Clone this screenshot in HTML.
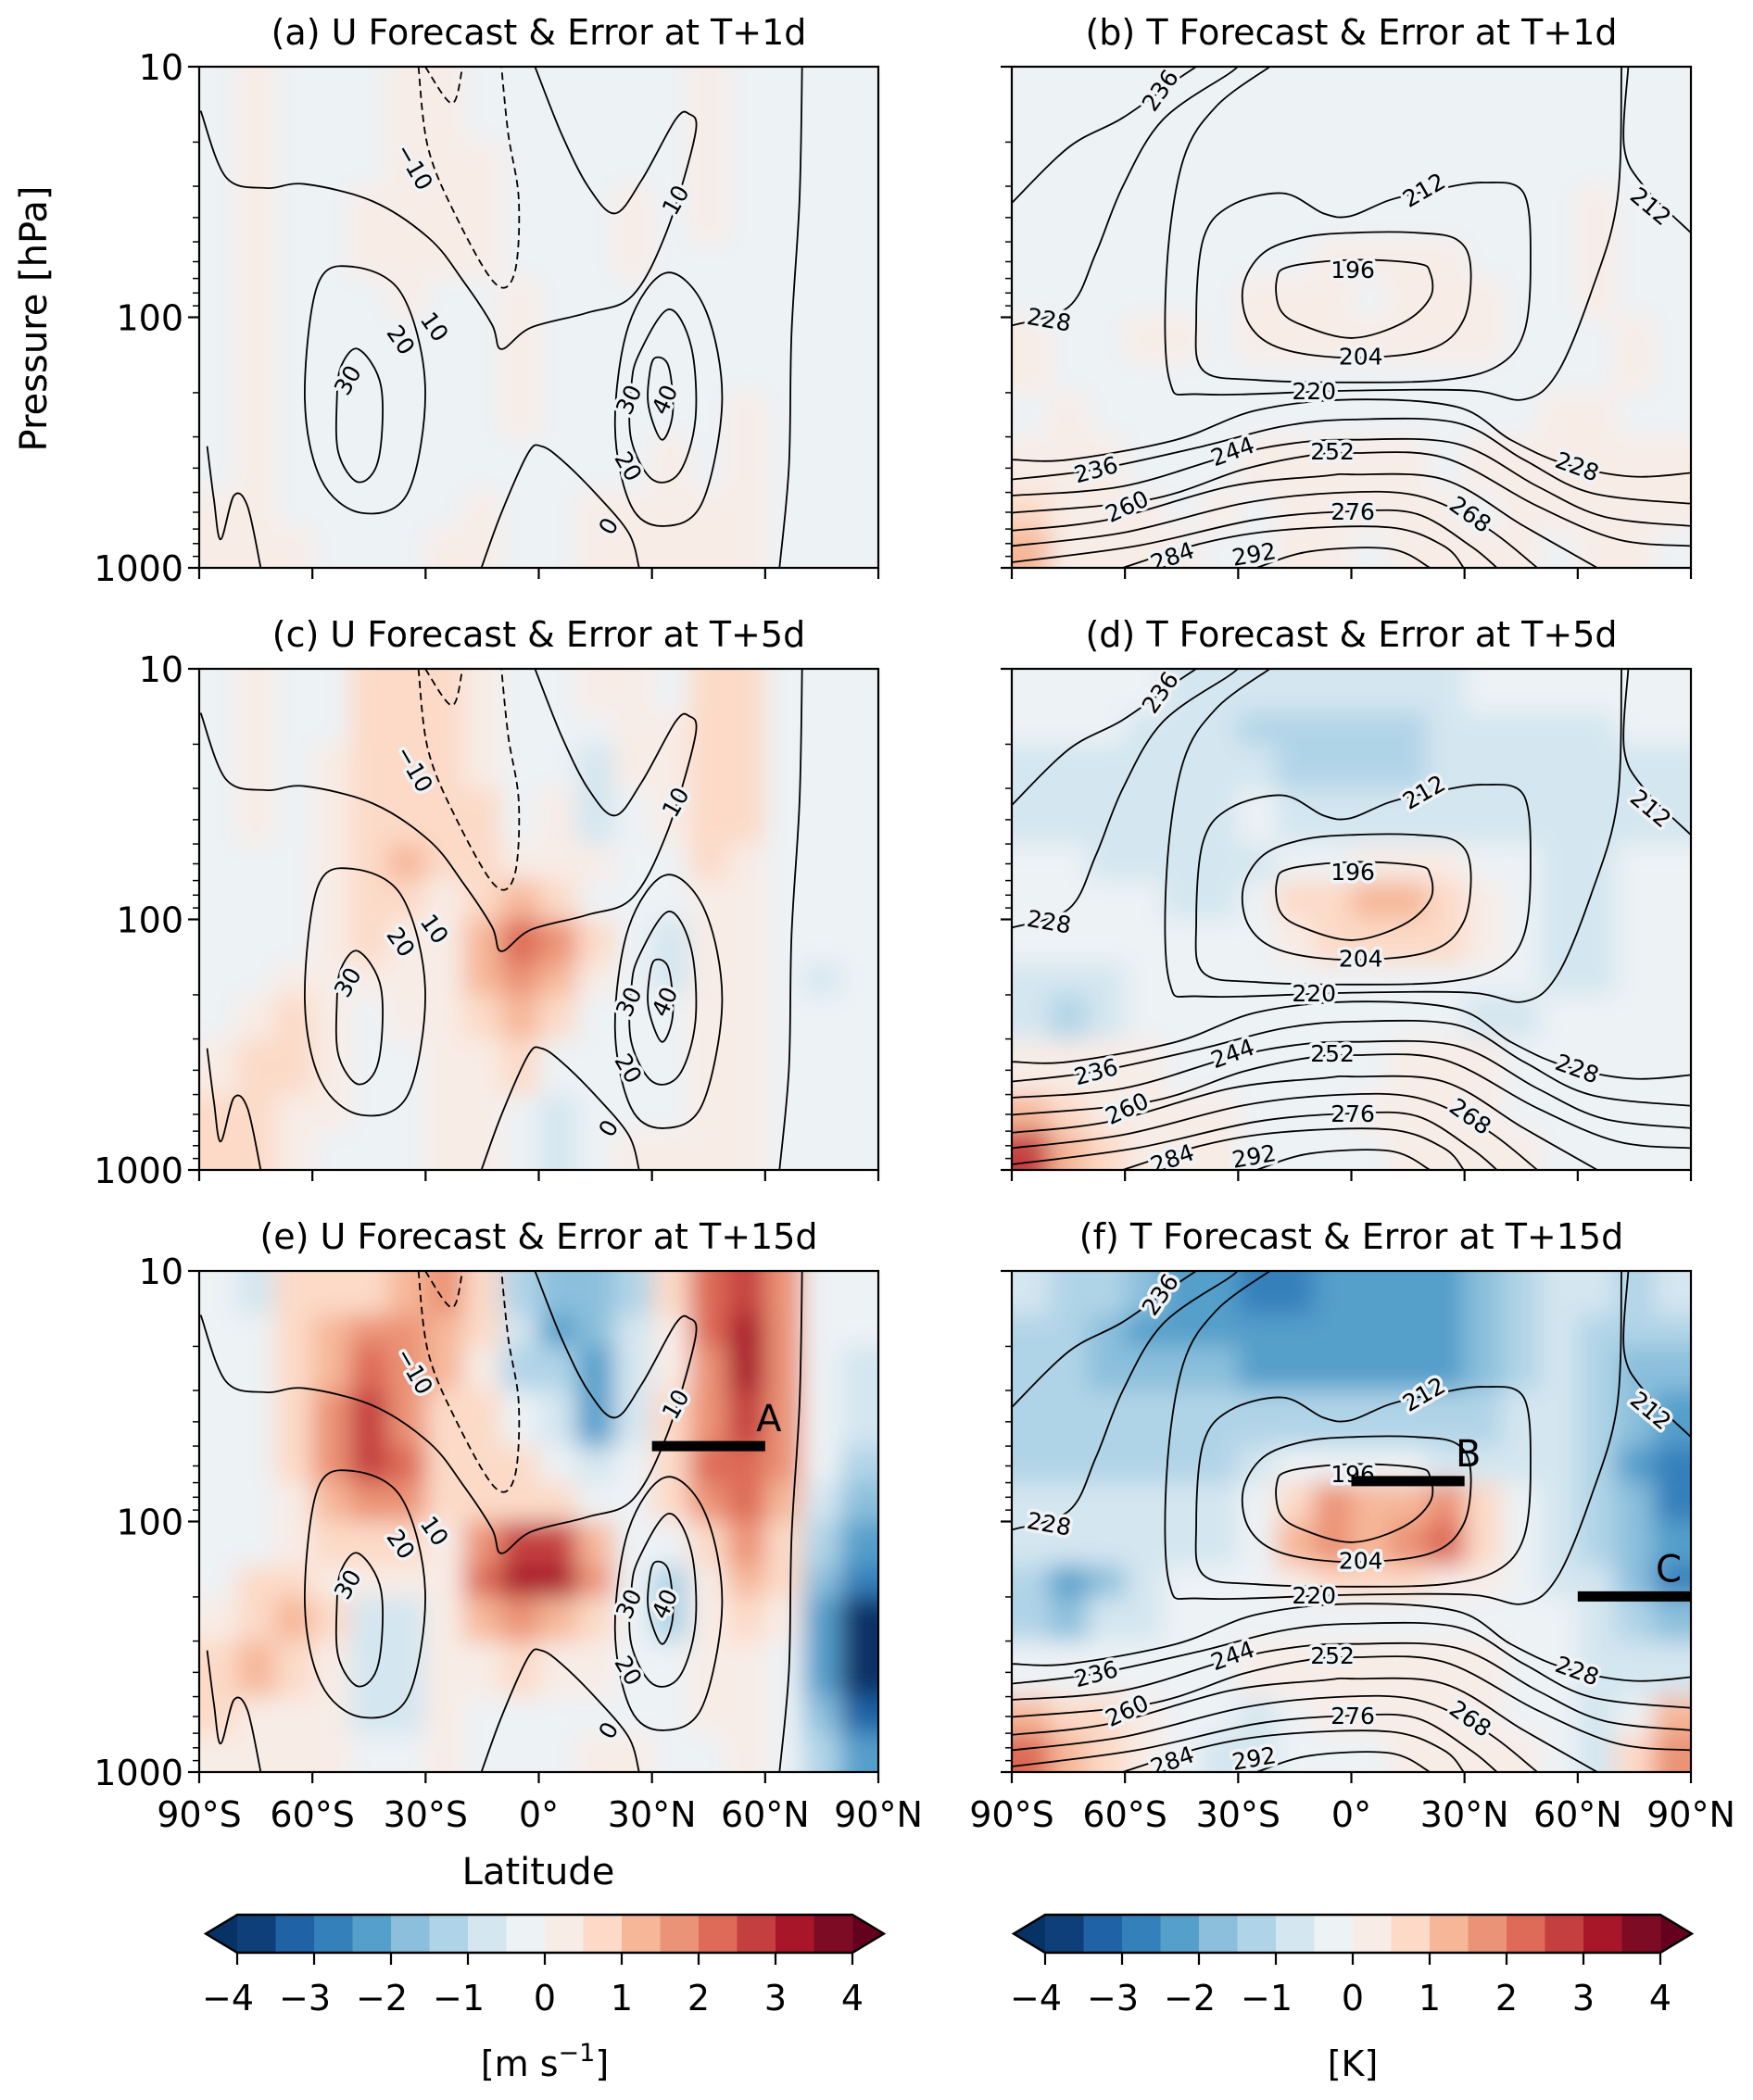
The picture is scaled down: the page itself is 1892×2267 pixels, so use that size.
<!DOCTYPE html>
<html><head><meta charset="utf-8"><title>U and T forecast errors</title>
<style>
html,body{margin:0;padding:0;background:#fff;}
svg text{font-family:"DejaVu Sans","Liberation Sans",sans-serif;fill:#000;}
</style></head>
<body>
<svg id="fig" xmlns="http://www.w3.org/2000/svg" width="1892" height="2262" viewBox="0 0 1892 2262">
<defs>
<filter id="soft" x="-5%" y="-5%" width="110%" height="110%"><feGaussianBlur stdDeviation="13"/></filter>
</defs>
<g id="root"></g>
</svg>
<script>
// ---------- data ----------
const latEdges = [-90,-80,-70,-60,-50,-40,-30,-20,-10,0,10,20,30,40,50,60,70,80,90];
const presEdges = [10,15,20,30,50,70,100,150,200,300,500,700,1000];
const latTicks = [-90,-60,-30,0,30,60,90];
const latTickLabels = ["90°S","60°S","30°S","0°","30°N","60°N","90°N"];
const presTicks = [10,100,1000];
const presMinor = [20,30,40,50,60,70,80,90,200,300,400,500,600,700,800,900];
const cbarTicks = [-4,-3,-2,-1,0,1,2,3,4];
const cbarLabels = ["−4","−3","−2","−1","0","1","2","3","4"];
const binColors = ["#0f3f78","#1f63a6","#3480bb","#559fcb","#8bbfdc","#b0d4e7","#d4e6f0","#edf2f5","#f8ece6","#fcdac7","#f6b799","#eb9376","#dd6b57","#c43f3f","#a81729","#7d0b24"];
const underColor = "#073266", overColor = "#65001f";

const uErr1 = [
[-.2,.2,-.2,-.2,-.2,.2,.2,-.2,-.2,-.2,-.2,-.2,-.2,.2,-.2,-.2,-.2,-.2],
[-.2,.2,-.2,-.2,-.2,.2,.2,-.2,-.2,-.2,-.2,-.2,-.2,.2,-.2,-.2,-.2,-.2],
[-.2,.2,-.2,-.2,-.2,.2,.2,.2,-.2,-.2,-.2,-.2,-.2,.2,-.2,-.2,-.2,-.2],
[-.2,.2,-.2,-.2,.2,.2,.2,.2,-.2,-.2,-.2,.2,-.2,.2,-.2,-.2,-.2,-.2],
[-.2,.2,-.2,-.2,.2,.2,.2,.2,-.2,-.2,-.2,.2,-.2,-.2,-.2,-.2,-.2,-.2],
[-.2,.2,-.2,-.2,-.2,.2,-.2,-.2,.2,-.2,-.2,-.2,-.2,-.2,-.2,-.2,-.2,-.2],
[-.2,.2,-.2,-.2,-.2,-.2,-.2,-.2,.4,-.2,-.2,-.2,-.2,-.2,-.2,-.2,-.2,-.2],
[-.2,.2,-.2,-.2,-.2,-.2,-.2,-.2,.4,-.2,-.2,-.2,-.2,-.2,-.2,-.2,-.2,-.2],
[-.2,.2,-.2,-.2,-.2,-.2,-.2,-.2,.2,-.2,-.2,-.2,-.2,-.2,.2,-.2,-.2,-.2],
[-.2,.2,-.2,-.2,-.2,-.2,-.2,-.2,-.2,-.2,-.2,-.2,.2,-.2,.2,-.2,-.2,-.2],
[.2,.2,-.2,-.2,-.2,-.2,-.2,.2,-.2,-.2,.2,.2,.2,.2,.2,-.2,-.2,-.2],
[.2,.2,.2,-.2,-.2,-.2,.2,.2,-.2,-.2,.2,.2,.2,.2,.2,-.2,-.2,-.2]];
const uErr5 = [
[-.2,.2,-.2,-.2,.5,.7,.5,.2,-.2,-.2,.2,.2,-.2,.6,.6,-.2,-.2,-.2],
[-.2,.2,-.2,-.2,.6,.8,.6,.2,-.2,-.2,-.2,.2,.2,.6,.6,-.2,-.2,-.2],
[-.2,.2,-.2,.2,.6,.8,.5,.2,-.2,-.2,-.6,.2,.2,.6,.6,-.2,-.2,-.2],
[-.2,.2,-.2,.2,.6,.8,.6,.6,-.2,.2,-.6,-.2,.2,.6,.6,-.2,-.2,-.2],
[-.2,-.2,-.2,.2,.8,1.2,.6,.6,.2,.2,.2,-.2,-.2,.6,.2,-.2,-.2,-.2],
[-.2,-.2,-.2,.2,.6,.6,.2,.6,1,.6,-.2,-.2,-.2,.2,.2,-.2,-.2,-.2],
[-.2,-.2,-.2,.2,.5,.2,.2,1.2,2.2,1.8,.6,-.2,-.6,.2,.2,-.2,-.2,-.2],
[-.2,-.2,.2,.2,.2,.2,.2,1,1.8,1.2,.2,-.2,-.6,.2,.2,-.2,-.6,-.2],
[-.2,.2,.6,.2,-.2,.2,.2,.6,1.2,.6,-.2,-.2,-.2,.2,.2,-.2,-.2,-.2],
[.2,.6,.6,.2,-.2,-.2,.2,.2,.5,-.2,-.2,-.2,-.2,.2,.2,-.2,-.2,-.2],
[.6,.6,.2,.2,-.2,-.2,.2,.2,-.2,-.6,-.2,-.2,-.2,.2,.2,-.2,-.2,-.2],
[.6,.6,.2,-.2,-.2,-.2,.2,.2,-.2,-.6,-.2,.2,.2,.2,.2,-.2,-.2,-.2]];
const uErr15 = [
[-.3,-.6,.7,.5,.8,1.2,1.5,.8,-1.5,-2,-1.8,-1.2,.5,2,2.5,1.5,-.2,-.3],
[-.2,-.2,.6,1,1.5,1.5,1.2,.5,-1,-2.2,-2,-.8,.3,2,3,1.5,-.3,-.5],
[-.2,-.2,.5,1.2,2.2,1.5,1,.3,-1.2,-1.5,-2.2,-.8,.3,1.8,3.2,1.8,-.5,-.7],
[-.2,-.2,.5,1.5,2.5,1.8,.8,.5,-.5,-1,-2.5,-.7,.5,1.8,2.8,1.5,-.5,-1],
[-.2,-.2,.5,1.8,2.5,2,.8,.5,.8,-.5,-1,-.5,.6,2,2.3,1.5,-.5,-1.5],
[-.2,-.2,.3,1,1.8,1.5,.6,.5,.8,.5,-.4,-.3,.5,1.5,2,1.2,-.8,-2],
[-.2,-.2,.3,.5,.8,.6,.3,1.5,2.5,2.5,1,-.3,-.5,.5,1.5,.8,-1.5,-2.5],
[-.2,.5,.8,.3,.3,.3,.3,2,3.2,3,1.5,-.5,-1.2,.2,1,.5,-2,-3],
[.3,.8,1,.5,-.8,-.8,.3,1,1.5,1.2,.5,-.5,-1.5,.2,.5,.2,-2.5,-4.2],
[.5,1,.8,.3,-1,-.8,.3,.3,.5,.3,.3,-.3,-.5,.2,.3,-.2,-2.5,-4.5],
[.5,.3,.3,.2,-.8,-.7,.2,-.3,-.3,-.3,-.3,-.3,-.3,.2,.3,-.3,-2,-3.5],
[.3,.3,.2,.2,-.5,-.5,.2,-.3,-.3,-.3,.2,.2,-.3,-.3,.2,-.5,-1.5,-2.5]];
const tErr1 = [
[-.2,-.2,-.2,-.2,-.2,-.2,-.2,-.2,-.2,-.2,-.2,-.2,-.2,-.2,-.2,-.2,-.2,-.2],
[-.2,-.2,-.2,-.2,-.2,-.2,-.2,-.2,-.2,-.2,-.2,-.2,-.2,-.2,-.2,-.2,-.2,-.2],
[-.2,-.2,-.2,-.2,-.2,-.2,-.2,-.2,-.2,-.2,-.2,-.2,-.2,-.2,-.2,-.2,-.2,-.2],
[-.2,-.2,-.2,-.2,-.2,-.2,-.2,-.2,-.2,-.2,-.2,-.2,-.2,-.2,-.2,.2,-.2,-.2],
[-.2,-.2,-.2,-.2,-.2,-.2,-.2,-.2,.2,.2,.2,.2,-.2,-.2,-.2,.2,-.2,-.2],
[-.2,-.2,-.2,-.2,-.2,-.2,.2,.2,.2,-.2,.2,.2,.2,-.2,-.2,.2,-.2,-.2],
[.2,-.2,-.2,.2,.2,-.2,.2,.2,.2,.2,.2,.2,.2,-.2,-.2,-.2,.2,-.2],
[.2,-.2,-.2,-.2,-.2,-.2,-.2,-.2,-.2,-.2,-.2,-.2,-.2,-.2,-.2,-.2,.2,-.2],
[-.2,.2,-.2,-.2,-.2,-.2,-.2,-.2,-.2,-.2,-.2,-.2,-.2,-.2,.2,.2,-.2,-.2],
[.2,.2,.2,-.2,-.2,-.2,.2,.2,.2,.2,.2,-.2,.2,.2,.2,.2,.2,.2],
[.6,.2,.2,.2,-.2,.2,-.2,.2,.2,.2,.2,.2,-.2,.2,.2,.2,.2,.2],
[1,.2,.2,.2,.2,-.2,-.2,.2,.2,-.2,.2,.2,.2,.2,-.2,.2,.2,-.2]];
const tErr5 = [
[-.3,-.3,-.3,-.5,-.6,-.8,-1,-1,-.8,-.8,-.8,-.6,-.5,-.3,-.3,-.3,-.3,-.3],
[-.3,-.3,-.5,-.6,-.8,-1,-1.2,-1.2,-1.2,-1.2,-1.2,-1,-.8,-.6,-.6,-.6,-.5,-.5],
[-.6,-.6,-.6,-.6,-.6,-.6,-.8,-1.2,-1.3,-1.3,-1.2,-1,-.8,-.6,-.6,-.6,-.8,-.6],
[-.6,-.6,-.6,-.6,-.6,-.6,-.3,-.6,-.6,-.6,-.6,-.6,-.6,-.6,-.6,-.6,-.6,-.6],
[-.2,-.2,-.6,-.6,-.6,-.6,-.6,-.2,-.2,.3,.3,.3,-.2,-.2,-.6,-.6,-.3,-.2],
[-.2,-.2,-.2,-.2,-.6,-.6,-.3,.5,.8,1,1,.6,.3,-.2,-.6,-.6,-.3,-.2],
[-.2,-.2,-.2,-.2,-.3,-.3,-.2,.3,.6,.6,.6,.5,.2,-.2,-.6,-.6,-.3,-.2],
[-.6,-.6,-.6,-.3,-.3,-.2,-.2,-.2,-.2,-.2,-.2,-.2,-.2,-.2,-.6,-.6,-.2,-.2],
[-.6,-1.2,-.6,-.3,-.2,-.2,-.2,-.2,-.2,-.2,-.2,-.2,-.6,-.6,-.2,-.2,-.2,-.2],
[.3,.3,.3,.3,-.2,-.2,-.2,-.2,-.2,-.2,.2,.2,.2,-.2,-.2,-.2,-.2,-.2],
[1,.6,.3,.3,.3,.2,-.2,-.2,-.2,.2,.3,.3,.2,-.2,-.2,-.2,-.2,-.2],
[2.5,1.2,.6,.3,.3,.2,-.2,-.2,-.2,-.2,.2,.2,.2,.2,-.2,-.2,-.2,-.2]];
const tErr15 = [
[-1,-1.5,-1.5,-2,-2.5,-2.5,-3,-3,-2.5,-2.5,-2.5,-2.5,-2,-1.5,-.6,-1,-1.2,-1],
[-1.5,-1.5,-2,-2.5,-2.5,-2.5,-2.5,-2.5,-2.5,-2.5,-2.5,-2.5,-2,-1.5,-.6,-1.2,-1.5,-1.5],
[-1.5,-1.5,-2,-2,-2,-2,-2.2,-2.5,-2.5,-2.5,-2.5,-2.5,-2,-1.2,-.6,-1.5,-2,-2],
[-1.5,-1.5,-1.5,-1.5,-1.5,-1.5,-1.5,-1.5,-1.2,-1.2,-1.2,-1.5,-1.5,-1,-.6,-1.5,-2,-2.5],
[-1.2,-1.2,-1.2,-1.2,-1.2,-1.2,-.6,-.5,-.2,-.2,-.2,-.6,-.8,-.6,-.6,-1.5,-2.2,-3],
[-.6,-.6,-.6,-.6,-.8,-.8,-.3,.8,1.5,1,1.2,1.5,.8,-.2,-.6,-1.2,-2,-3],
[-.6,-.6,-.6,-.6,-.6,-.6,-.3,1,1.5,1.2,1.5,2,.8,-.2,-.6,-1.2,-2,-2.5],
[-1.5,-2.5,-1.8,-.6,-.3,-.3,-.3,.3,.5,.5,.5,.3,.2,-.2,-.6,-1,-1.8,-3],
[-1.5,-2,-1,-.6,-.3,-.2,-.2,-.2,-.2,-.2,-.2,-.2,-.3,-.3,-.3,-.6,-1.2,-2],
[-.3,-.3,-.3,-.3,-.2,-.2,.2,.2,.2,.2,.3,.3,.2,-.2,-.2,-.6,-1,-.6],
[1,.8,.5,.3,-.2,-.2,-.6,-.3,.2,.2,.3,.2,.2,-.2,-.2,-.6,-.5,1],
[2,1.2,.8,.3,-.2,-.6,-.6,-.3,-.2,-.2,.2,.2,.3,.3,-.2,-.6,.5,1.8]];

// U forecast contours: [lat, pressure] points
const uContours = [
 {lev:10, closed:false, lat:[-89.6,-82.9,-72.3,-62,-43.9,-29,-20.2,-12.4,-9.9,-2.1,12.8,24.8,34,41.5,39.7,36.2,27.3,20.2,13.1,6,-1],
  p:[15,27.6,30.5,29.4,34.5,48.5,71,107,134,110,96,82,45,18.5,15.4,16.3,28.3,38.5,30.1,18.5,10]},
 {lev:-10, closed:false, lat:[-31.9,-29.4,-22.3,-11.7,-6.4,-5.3,-8.1,-9.9], p:[10,20.9,38.5,73,66.5,34,18.5,10]},
 {lev:-10, closed:false, lat:[-30.1,-23,-20.2], p:[10,14,10]},
 {lev:20, closed:true, lat:[-58.8,-50,-36.5,-30.1,-34.7,-47.1,-57.7,-62], p:[75.5,62.7,80,189,502,603,444,213]},
 {lev:30, closed:true, lat:[-52.4,-47.8,-41.8,-42.5,-47.8,-53.1,-53.5], p:[157,134,189,370,455,348,213]},
 {lev:0, closed:false, lat:[-15.2,-9.9,-2.8,0.7,6,14.9,23.8,26.6], p:[1000,603,348,327,370,502,724,1000]},
 {lev:20, closed:true, lat:[23.8,33.7,44,48.6,43.3,33.3,24.5,20.2], p:[108,66.5,92,213,550,681,567,272]},
 {lev:30, closed:true, lat:[26.6,34.4,40.4,41.5,37.2,30.1,24.5,24.5], p:[140,93,131,256,418,444,308,189]},
 {lev:40, closed:true, lat:[30.9,34.4,35.5,32.6,29.1,29.4], p:[145,157,241,308,227,167]},
 {lev:0, closed:false, lat:[69.8,69.1,67,66.3,63.8], p:[10,34,116,393,1000]},
 {lev:0, closed:false, lat:[-87.9,-86.1,-84.3,-80.8,-77.2,-73.7], p:[327,534,770,515,567,1000]}
];
const uLabelText = ["−10","10","20","30","30","40","20","0","10"];
const uLabelLat = [-32.9,-27.6,-36.5,-50.7,23.8,33.3,23.8,18.4,36.2];
const uLabelP = [25.1,109,123,178,213,213,393,681,34];
const uLabelRot = [60,55,55,-60,-65,-65,60,-60,-60];

// T forecast contours
const tContours = [
 {lev:196, closed:true, lat:[-19.8,-16.3,0.4,17.4,20.9,20.9,13.8,0.4,-12.7,-18.8], p:[71,62.7,59,61,66.5,83.5,105,121,108,93.5]},
 {lev:204, closed:true, lat:[-28.7,-23.4,-12.7,0.4,17.4,28,31.6,29.8,20.9,0.4,-18.1,-26.9], p:[75.5,55.5,48,46,46,49,62.7,102,134,145,134,108]},
 {lev:212, closed:true, lat:[-41.1,-39.3,-32.2,-18.1,-7.4,-0.3,10.3,22,35.1,45.7,47.5,45.7,38.6,24.5,0.4,-25.1,-39.3], p:[102,49,36,32,38.5,39.5,34,31,29,32,62.7,116,157,178,182,178,163]},
 {lev:220, closed:false, lat:[-21.6,-35.8,-44.6,-48.9,-48.2,-39.3,0.4,31.6,45.7,54.6,63.5,70.5,71.6], p:[10,14.4,23.6,62.7,178,203,196,196,213,167,80,34,10]},
 {lev:212, closed:false, lat:[73.4,72.3,77.6,90], p:[10,20.9,30.1,46]},
 {lev:228, closed:false, lat:[-90,-74.8,-67.7,-60.6,-50,-32.2,-30.5], p:[108,90.5,55.5,30.1,16.3,10.6,10]},
 {lev:236, closed:false, lat:[-90,-74.8,-60.6,-46.4,-41.1], p:[35,20.9,16,11.3,10]},
 {lev:228, closed:false, lat:[-90,-74.8,-46.4,-25.1,0.4,28,42.2,56.4,74.1,90], p:[370,370,308,235,213,228,308,384,432,418]},
 {lev:236, closed:false, lat:[-90,-67.7,-39.3,-18.1,0.4,28,45.7,63.5,90], p:[444,405,327,272,256,264,370,502,555]},
 {lev:244, closed:false, lat:[-90,-60.6,-32.2,-14.5,0.4,28,49.3,67,90], p:[515,473,356,317,308,320,473,625,681]},
 {lev:252, closed:false, lat:[-90,-53.5,-28.7,-11,0.4,24.5,49.3,70.5,90], p:[603,534,405,356,348,363,567,770,818]},
 {lev:260, closed:false, lat:[-90,-64.1,-32.2,-7.4,0.4,24.5,45.7,65.2], p:[710,641,473,430,424,444,681,1000]},
 {lev:268, closed:false, lat:[-90,-60.6,-28.7,-3.9,17.4,35.1,49.3], p:[818,724,553,502,515,681,1000]},
 {lev:276, closed:false, lat:[-90,-57,-25.1,0.4,17.4,31.6,38.6], p:[950,818,641,595,610,818,1000]},
 {lev:284, closed:false, lat:[-60.6,-39.3,-18.1,10.3,24.5,29.8], p:[1000,796,706,690,818,1000]},
 {lev:292, closed:false, lat:[-25.1,-11,10.3,20.9], p:[1000,860,840,1000]}
];
const tLabelText = ["236","212","228","196","204","220","236","244","252","228","260","276","268","284","292","212"];
const tLabelLat = [-50.7,19.2,-80.1,0.4,2.5,-9.9,-67.7,-31.5,-5,59.9,-59.5,0.4,31.6,-47.5,-25.8,79.4];
const tLabelP = [12.4,31,102,64.5,143,197,405,342,342,393,567,595,610,900,880,36];
const tLabelRot = [-55,-30,10,0,0,0,-15,-20,0,20,-25,0,35,-20,-10,40];

// Marker bars in (e) and (f)
const markerNames = ["A","B","C"];
const markerPanel = [4,5,5];
const markerLat0 = [30,0,60];
const markerLat1 = [60,30,90];
const markerP = [50,69,199];

// ---------- layout ----------
const NS = "http://www.w3.org/2000/svg";
const root = document.getElementById("root");
const PW = 733, PH = 541;
const FS = 38;
const panels = [
 {x0:215, y0:72, field:uErr1, kind:"u", title:"(a) U Forecast & Error at T+1d", name:"panel-a-u-1d"},
 {x0:1092, y0:72, field:tErr1, kind:"t", title:"(b) T Forecast & Error at T+1d", name:"panel-b-t-1d"},
 {x0:215, y0:722, field:uErr5, kind:"u", title:"(c) U Forecast & Error at T+5d", name:"panel-c-u-5d"},
 {x0:1092, y0:722, field:tErr5, kind:"t", title:"(d) T Forecast & Error at T+5d", name:"panel-d-t-5d"},
 {x0:215, y0:1372, field:uErr15, kind:"u", title:"(e) U Forecast & Error at T+15d", name:"panel-e-u-15d"},
 {x0:1092, y0:1372, field:tErr15, kind:"t", title:"(f) T Forecast & Error at T+15d", name:"panel-f-t-15d"}
];

function mk(tag, attrs, parent){
  const e = document.createElementNS(NS, tag);
  for (const k in attrs) e.setAttribute(k, attrs[k]);
  (parent||root).appendChild(e);
  return e;
}
function colorFor(v){
  if (v < -4) return underColor;
  if (v > 4) return overColor;
  let i = Math.floor((v + 4) / 0.5);
  if (i < 0) i = 0; if (i > 15) i = 15;
  return binColors[i];
}
function smoothPath(pts, closed){
  const n = pts.length;
  if (n < 2) return "";
  const get = i => closed ? pts[(i + n) % n] : pts[Math.max(0, Math.min(n - 1, i))];
  let d = "M" + pts[0][0].toFixed(1) + "," + pts[0][1].toFixed(1);
  const segs = closed ? n : n - 1;
  for (let i = 0; i < segs; i++){
    const p0 = get(i-1), p1 = get(i), p2 = get(i+1), p3 = get(i+2);
    const c1 = [p1[0] + (p2[0]-p0[0])/6, p1[1] + (p2[1]-p0[1])/6];
    const c2 = [p2[0] - (p3[0]-p1[0])/6, p2[1] - (p3[1]-p1[1])/6];
    d += "C" + c1[0].toFixed(1) + "," + c1[1].toFixed(1) + " " + c2[0].toFixed(1) + "," + c2[1].toFixed(1) + " " + p2[0].toFixed(1) + "," + p2[1].toFixed(1);
  }
  if (closed) d += "Z";
  return d;
}

panels.forEach((P, idx) => {
  const xs = lat => P.x0 + (lat + 90) / 180 * PW;
  const ys = p => P.y0 + (Math.log10(p) - 1) / 2 * PH;
  const g = mk("g", {});
  
  

  const cp = mk("clipPath", {id:"clip" + idx}, g);
  mk("rect", {x:P.x0, y:P.y0, width:PW, height:PH}, cp);

  const clipG = mk("g", {"clip-path":"url(#clip" + idx + ")"}, g);
  const heat = mk("g", {filter:"url(#soft)"}, clipG);
  
  
  const pad = 40;
  for (let r = 0; r < presEdges.length - 1; r++){
    for (let c = 0; c < latEdges.length - 1; c++){
      let x1 = xs(latEdges[c]), x2 = xs(latEdges[c+1]);
      let y1 = ys(presEdges[r]), y2 = ys(presEdges[r+1]);
      if (c === 0) x1 -= pad; if (c === latEdges.length - 2) x2 += pad;
      if (r === 0) y1 -= pad; if (r === presEdges.length - 2) y2 += pad;
      const cell = mk("rect", {x:x1.toFixed(1), y:y1.toFixed(1), width:(x2-x1+0.6).toFixed(1), height:(y2-y1+0.6).toFixed(1), fill:colorFor(P.field[r][c])}, heat);
      
      
    }
  }

  const cont = P.kind === "u" ? uContours : tContours;
  const cg = mk("g", {fill:"none", stroke:"#000", "stroke-width":"1.8"}, clipG);
  
  
  cont.forEach(C => {
    const pts = C.lat.map((la, i) => [xs(la), ys(C.p[i])]);
    const path = mk("path", {d: smoothPath(pts, C.closed)}, cg);
    if (C.lev < 0) path.setAttribute("stroke-dasharray", "8 5");
    
    
  });
  const lt = P.kind === "u" ? uLabelText : tLabelText;
  const lla = P.kind === "u" ? uLabelLat : tLabelLat;
  const lp = P.kind === "u" ? uLabelP : tLabelP;
  const lr = P.kind === "u" ? uLabelRot : tLabelRot;
  lt.forEach((s, i) => {
    const x = xs(lla[i]), y = ys(lp[i]);
    const t = mk("text", {x:x.toFixed(1), y:(y+9).toFixed(1), "font-size":"25", "text-anchor":"middle",
      transform:"rotate(" + lr[i] + " " + x.toFixed(1) + " " + y.toFixed(1) + ")",
      stroke:"#eef2f5", "stroke-width":"7", "paint-order":"stroke", "stroke-linejoin":"round"}, clipG);
    t.textContent = s;
    
    
  });

  markerNames.forEach((m, i) => {
    if (markerPanel[i] !== idx) return;
    const y = ys(markerP[i]);
    const ln = mk("line", {x1:xs(markerLat0[i]), x2:xs(markerLat1[i]), y1:y, y2:y, stroke:"#000", "stroke-width":"11"}, g);
    
    
    const tx = mk("text", {x:(xs(markerLat1[i]) + (i===2 ? -24 : 4)).toFixed(1), y:(y - 16).toFixed(1), "font-size":"40", "text-anchor":"middle"}, g);
    tx.textContent = m;
    
    
  });

  const fr = mk("rect", {x:P.x0, y:P.y0, width:PW, height:PH, fill:"none", stroke:"#000", "stroke-width":"2.2"}, g);
  
  

  latTicks.forEach((la, i) => {
    const x = xs(la);
    const tk = mk("line", {x1:x, x2:x, y1:P.y0+PH, y2:P.y0+PH+12, stroke:"#000", "stroke-width":"2.2"}, g);
    
    
    if (idx >= 4){
      const tl = mk("text", {x:x, y:1972, "font-size":FS, "text-anchor":"middle"}, g);
      tl.textContent = latTickLabels[i];
      
      
    }
  });
  presTicks.forEach(p => {
    const y = ys(p);
    const tk = mk("line", {x1:P.x0-12, x2:P.x0, y1:y, y2:y, stroke:"#000", "stroke-width":"2.2"}, g);
    
    
    if (P.kind === "u"){
      const tl = mk("text", {x:P.x0-17, y:(y+14).toFixed(1), "font-size":FS, "text-anchor":"end"}, g);
      tl.textContent = String(p);
      
      
    }
  });
  presMinor.forEach(p => {
    const y = ys(p);
    const tk = mk("line", {x1:P.x0-7, x2:P.x0, y1:y, y2:y, stroke:"#000", "stroke-width":"1.5"}, g);
    
    
  });

  const tt = mk("text", {x:P.x0 + PW/2, y:P.y0-24, "font-size":FS, "text-anchor":"middle"}, g);
  tt.textContent = P.title;
  
  
});

const yl = mk("text", {x:0, y:0, "font-size":"40", "text-anchor":"middle", transform:"translate(50,344) rotate(-90)"});
yl.textContent = "Pressure [hPa]";


const xl = mk("text", {x:581, y:2034, "font-size":"40", "text-anchor":"middle"});
xl.textContent = "Latitude";



[{x0:256, unit:"u", name:"colorbar-wind"}, {x0:1128, unit:"t", name:"colorbar-temperature"}].forEach(CB => {
  const W = 664, y0 = 2067, h = 41, tip = 34;
  const g = mk("g", {});
  
  
  const cx = v => CB.x0 + (v + 4) / 8 * W;
  mk("polygon", {points: cx(-4)+","+y0+" "+(cx(-4)-tip)+","+(y0+h/2)+" "+cx(-4)+","+(y0+h), fill:underColor}, g);
  mk("polygon", {points: cx(4)+","+y0+" "+(cx(4)+tip)+","+(y0+h/2)+" "+cx(4)+","+(y0+h), fill:overColor}, g);
  binColors.forEach((col, i) => {
    const v0 = -4 + i*0.5;
    const r = mk("rect", {x:cx(v0).toFixed(1), y:y0, width:(W/16+0.5).toFixed(1), height:h, fill:col}, g);
    
    
  });
  mk("path", {d:"M"+cx(-4)+","+y0+" L"+cx(4)+","+y0+" L"+(cx(4)+tip)+","+(y0+h/2)+" L"+cx(4)+","+(y0+h)+" L"+cx(-4)+","+(y0+h)+" L"+(cx(-4)-tip)+","+(y0+h/2)+" Z", fill:"none", stroke:"#000", "stroke-width":"2.4"}, g);
  cbarTicks.forEach((v, i) => {
    mk("line", {x1:cx(v), x2:cx(v), y1:y0+h, y2:y0+h+13, stroke:"#000", "stroke-width":"2.2"}, g);
    const t = mk("text", {x:cx(v)+(v<0?-10:0), y:2170, "font-size":FS, "text-anchor":"middle"}, g);
    t.textContent = cbarLabels[i];
    
    
  });
  const u = mk("text", {x:CB.x0 + W/2, y:2241, "font-size":FS, "text-anchor":"middle"}, g);
  if (CB.unit === "u"){
    u.innerHTML = '[m s<tspan dy="-16" font-size="27">−1</tspan><tspan dy="16">]</tspan>';
  } else {
    u.textContent = "[K]";
  }
  
  
});
</script>
</body></html>
